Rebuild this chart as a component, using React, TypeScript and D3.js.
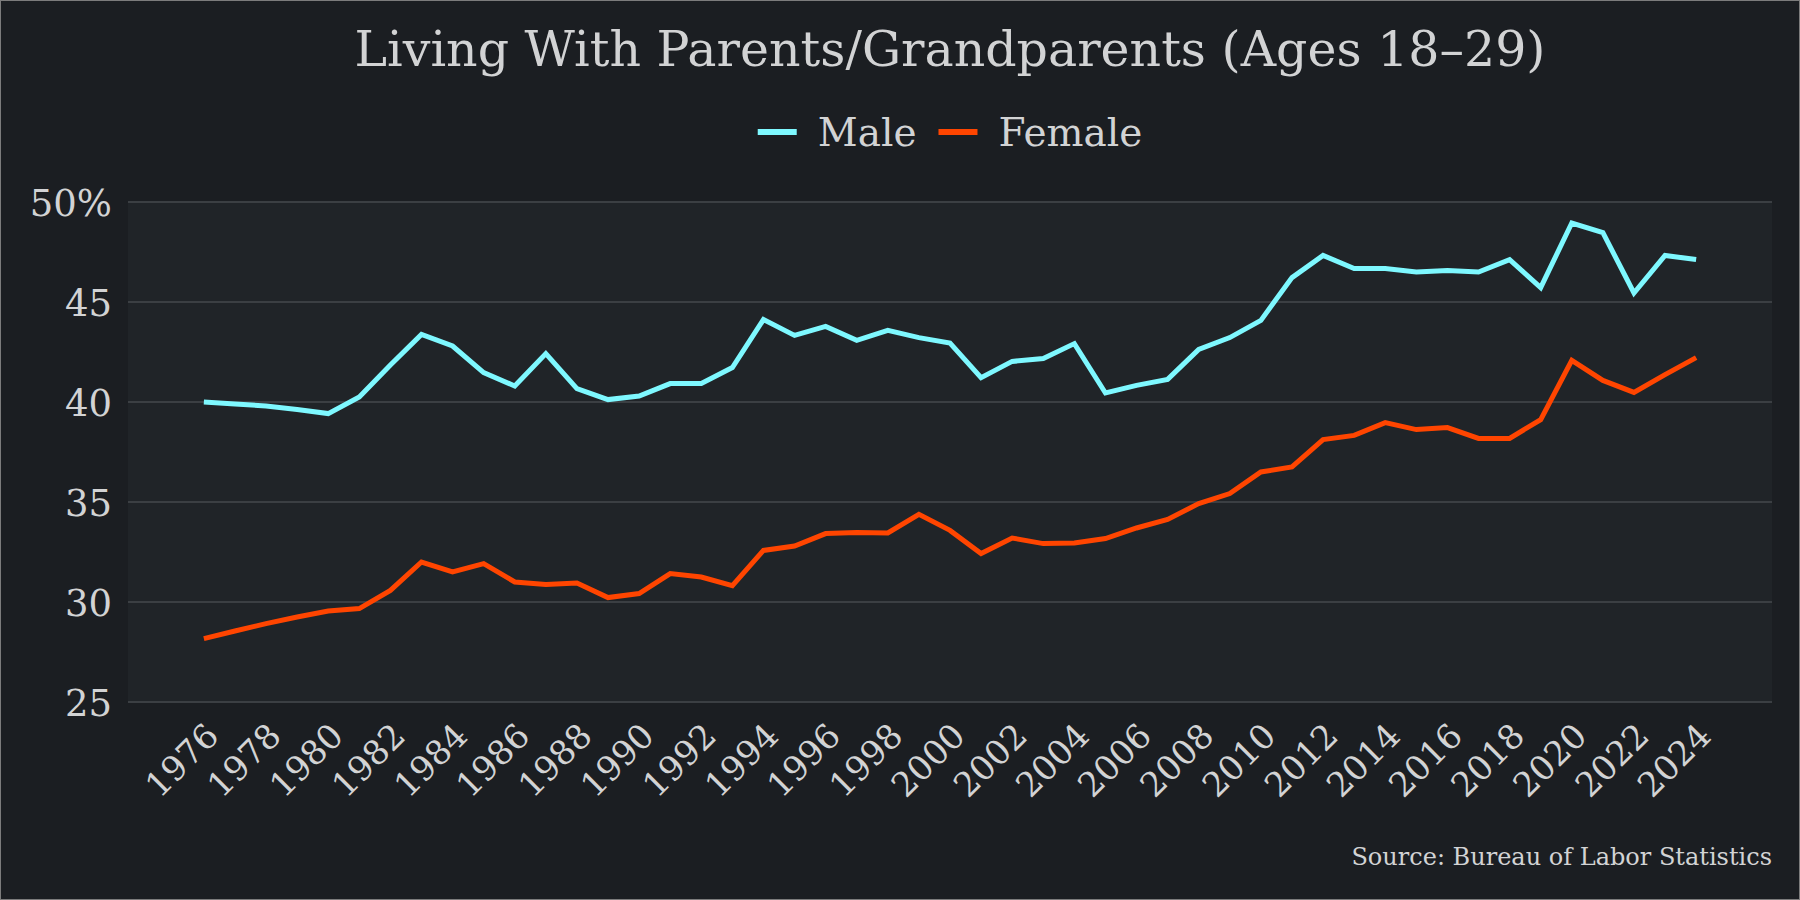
import React, { useEffect, useRef } from 'react';
import * as d3 from 'd3';

const years = d3.range(1976, 2025);

const maleValues = [
  40.0, 39.9, 39.8, 39.62, 39.42, 40.25, 41.85, 43.38, 42.8, 41.47,
  40.8, 42.42, 40.67, 40.12, 40.3, 40.92, 40.93, 41.72, 44.12, 43.33,
  43.78, 43.08, 43.58, 43.22, 42.95, 41.22, 42.03, 42.17, 42.92, 40.45,
  40.83, 41.13, 42.63, 43.22, 44.08, 46.22, 47.33, 46.67, 46.67, 46.5,
  46.58, 46.5, 47.12, 45.72, 48.95, 48.47, 45.45, 47.33, 47.12,
];

const femaleValues = [
  28.17, 28.55, 28.92, 29.25, 29.55, 29.67, 30.58, 32.0, 31.5, 31.92,
  31.0, 30.88, 30.95, 30.22, 30.42, 31.42, 31.25, 30.82, 32.58, 32.8,
  33.42, 33.47, 33.45, 34.38, 33.58, 32.42, 33.2, 32.92, 32.95, 33.17,
  33.7, 34.13, 34.92, 35.42, 36.5, 36.75, 38.12, 38.33, 38.97, 38.62,
  38.72, 38.18, 38.18, 39.12, 42.08, 41.08, 40.48, 41.37, 42.22,
];

const yTicks = [25, 30, 35, 40, 45, 50];
const xTickYears = d3.range(1976, 2025, 2);

const series = [
  { name: 'Male', values: maleValues, color: '#7ef8ff' },
  { name: 'Female', values: femaleValues, color: '#ff4500' },
];

const title = 'Living With Parents/Grandparents (Ages 18–29)';
const source = 'Source: Bureau of Labor Statistics';

export default function App() {
  const ref = useRef<SVGSVGElement>(null);

  useEffect(() => {
    document.body.style.margin = '0';
    if (!ref.current) return;

    const svg = d3.select(ref.current);
    svg.selectAll('*').remove();

    const width = 1800;
    const height = 900;
    const margin = { top: 202, right: 28, bottom: 198, left: 128 };
    const font = "Georgia, 'DejaVu Serif', serif";
    const textColor = '#d2d3d4';

    svg.attr('width', width).attr('height', height).style('display', 'block');

    // ------- Background -------
    svg
      .append('rect')
      .attr('x', 0.5)
      .attr('y', 0.5)
      .attr('width', width - 1)
      .attr('height', height - 1)
      .attr('fill', '#1b1e22')
      .attr('stroke', '#7c7c7c');

    const plotW = width - margin.left - margin.right;
    const plotH = height - margin.top - margin.bottom;

    svg
      .append('rect')
      .attr('x', margin.left)
      .attr('y', margin.top)
      .attr('width', plotW)
      .attr('height', plotH)
      .attr('fill', '#202428');

    // ------- Scales -------
    const pad = 2.44;
    const x = d3
      .scaleLinear()
      .domain([years[0] - pad, years[years.length - 1] + pad])
      .range([margin.left, width - margin.right]);

    const y = d3
      .scaleLinear()
      .domain([25, 50])
      .range([height - margin.bottom, margin.top]);

    // ------- Grid -------
    svg
      .append('g')
      .selectAll('line')
      .data(yTicks)
      .enter()
      .append('line')
      .attr('x1', margin.left)
      .attr('x2', width - margin.right)
      .attr('y1', (d) => y(d))
      .attr('y2', (d) => y(d))
      .attr('stroke', '#3b3f43')
      .attr('stroke-width', 2);

    // ------- Y labels -------
    svg
      .append('g')
      .selectAll('text')
      .data(yTicks)
      .enter()
      .append('text')
      .attr('x', margin.left - 16)
      .attr('y', (d) => y(d) + 14)
      .attr('text-anchor', 'end')
      .attr('fill', textColor)
      .attr('font-family', font)
      .attr('font-size', 37)
      .text((d) => (d === 50 ? '50%' : String(d)));

    // ------- X labels -------
    svg
      .append('g')
      .selectAll('text')
      .data(xTickYears)
      .enter()
      .append('text')
      .attr('transform', (d) => `translate(${x(d) + 17},${height - margin.bottom + 36}) rotate(-45)`)
      .attr('text-anchor', 'end')
      .attr('fill', textColor)
      .attr('font-family', font)
      .attr('font-size', 34)
      .text((d) => String(d));

    // ------- Lines -------
    const line = d3
      .line<number>()
      .x((_, i) => x(years[i]))
      .y((d) => y(d));

    series.forEach((s) => {
      svg
        .append('path')
        .datum(s.values)
        .attr('fill', 'none')
        .attr('stroke', s.color)
        .attr('stroke-width', 5)
        .attr('stroke-linejoin', 'miter')
        .attr('d', line);
    });

    // ------- Title -------
    const cx = margin.left + plotW / 2;
    svg
      .append('text')
      .attr('x', cx)
      .attr('y', 66)
      .attr('text-anchor', 'middle')
      .attr('fill', textColor)
      .attr('font-family', font)
      .attr('font-size', 49)
      .text(title);

    // ------- Legend -------
    const legend = svg.append('g');
    const swatch = 39;
    const gapText = 21;
    const gapItem = 22;
    let cursor = 0;
    series.forEach((s, i) => {
      if (i > 0) cursor += gapItem;
      legend
        .append('line')
        .attr('x1', cursor)
        .attr('x2', cursor + swatch)
        .attr('y1', 132)
        .attr('y2', 132)
        .attr('stroke', s.color)
        .attr('stroke-width', 6);
      cursor += swatch + gapText;
      const t = legend
        .append('text')
        .attr('x', cursor)
        .attr('y', 146)
        .attr('fill', textColor)
        .attr('font-family', font)
        .attr('font-size', 39)
        .text(s.name);
      cursor += (t.node() as SVGTextElement).getComputedTextLength();
    });
    legend.attr('transform', `translate(${cx - cursor / 2},0)`);

    // ------- Source -------
    svg
      .append('text')
      .attr('x', width - margin.right)
      .attr('y', 865)
      .attr('text-anchor', 'end')
      .attr('fill', textColor)
      .attr('font-family', font)
      .attr('font-size', 24)
      .text(source);
  }, []);

  return <svg ref={ref} />;
}
